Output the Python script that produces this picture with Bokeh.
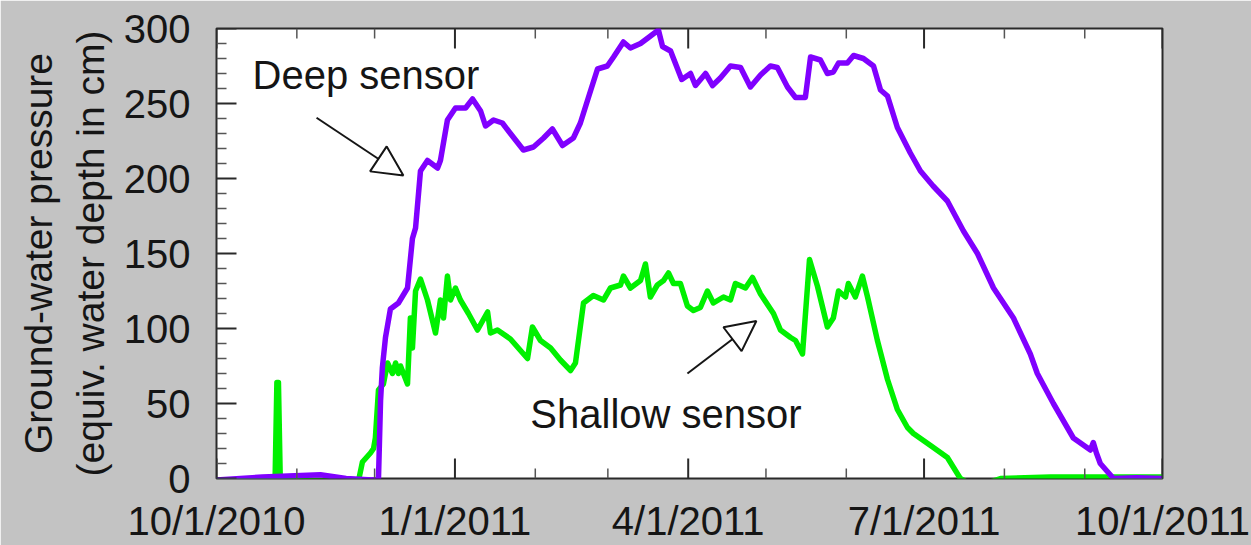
import pandas as pd
from bokeh.plotting import figure
from bokeh.models import FixedTicker, Label, Arrow, NormalHead, Range1d, ColumnDataSource
from bokeh.embed import file_html
from bokeh.resources import INLINE

# Record start; sample times are stored as days since this date
record_start = pd.Timestamp("2010-10-01")
record_end = pd.Timestamp("2011-10-01")

# Deep sensor: days since start, pressure as equivalent water depth (cm)
deep_days = [0, 17.7, 40.1, 50, 60.2, 62.5, 63.3, 64.0, 65.2, 67.1, 70.2, 73.7, 75.6, 76.8,
             78.7, 81.4, 85.3, 86.4, 89.1, 92.2, 96.1, 98.8, 101.9, 103.8, 106.9, 110.3,
             113.4, 118.4, 122.3, 126.2, 129.6, 133.5, 137.7, 140.4, 143.5, 147.0, 150.8,
             153.2, 157.0, 159.7, 163.6, 166.7, 170.5, 172.1, 175.2, 179.5, 182.9, 184.8,
             188.7, 191.4, 194.4, 198.3, 202.2, 206.0, 209.9, 213.7, 216.4, 220.3, 223.4,
             227.2, 229.2, 233.0, 235.7, 238.0, 240.0, 243.4, 245.8, 249.6, 253.5, 256.2,
             258.9, 262.7, 267.7, 271.6, 276.5, 282.0, 288.2, 293.6, 299.8, 307.5, 314.0,
             316.7, 322.9, 330.6, 337.2, 338.3, 339.5, 341.0, 346.1, 355, 365]
deep_cm = [-1, 1, 2.5, 0, -1, 0, 52, 74, 94, 113, 117, 127, 160, 167,
           205, 212, 207, 212, 239, 247, 247, 253, 245, 235, 239, 237,
           230, 219, 221, 227, 233, 222, 227, 237, 254, 273, 275,
           281, 291, 287, 290, 294, 299, 288, 285, 266, 270, 262,
           270, 262, 267, 275, 274, 261, 269, 275, 274, 261, 254,
           254, 281, 279, 270, 271, 277, 277, 282, 280, 275, 259,
           255, 234, 217, 205, 195, 185, 165, 150, 127, 107, 83,
           70, 50, 27, 19, 24, 17, 10, 0, 0.5, 0]

# Shallow sensor: days since start, pressure (cm)
shallow_days = [0, 22.6, 23.3, 23.9, 24.6, 32.4, 47.8, 54.8, 56.3, 59.4, 60.6, 61.3, 62.5,
                64.4, 66.0, 67.9, 69.1, 70.2, 71.0, 73.7, 74.8, 75.6, 76.8, 78.7, 81.4,
                84.5, 86.4, 87.6, 89.1, 90.3, 92.2, 94.1, 97.2, 100.7, 104.6, 105.7, 108.4,
                113.4, 120.0, 121.9, 125.0, 128.9, 132.7, 136.6, 138.5, 141.6, 145.4, 149.3,
                152.0, 155.9, 157.0, 159.7, 163.6, 165.5, 167.4, 170.1, 172.5, 174.4, 176.3,
                179.0, 181.7, 184.0, 186.7, 189.4, 191.7, 195.6, 198.3, 200.2, 204.1, 206.8,
                209.9, 214.9, 217.6, 221.5, 223.4, 226.1, 228.8, 231.9, 235.7, 238.0, 240.0,
                242.7, 243.8, 246.5, 249.2, 251.2, 255.0, 258.9, 262.7, 266.6, 268.9, 275.5,
                282.0, 287.0, 292.1, 297.5, 302.5, 321.8, 346.1, 365]
shallow_cm = [-1, -1, 64, 64, -1, -1.5, -2, -1.5, 11, 17, 20, 27, 59,
              63, 77, 70, 77, 70, 75, 63, 107, 87, 125, 133, 119,
              97, 119, 107, 135, 119, 127, 119, 110, 99, 111, 97, 99,
              93, 80, 101, 92, 87, 79, 72, 77, 117, 122, 119,
              127, 129, 135, 127, 132, 143, 121, 129, 132, 137, 130,
              130, 115, 112, 114, 125, 117, 121, 119, 130, 127, 134,
              123, 110, 99, 94, 92, 83, 146, 128, 101, 107, 125,
              121, 130, 121, 135, 121, 92, 66, 46, 34, 30, 22,
              14, 0, -5, -3, 0, 1, 1, 1]

# Axis ticks
quarter_dates = ["2010-10-01", "2011-01-01", "2011-04-01", "2011-07-01", "2011-10-01"]
quarter_labels = ["10/1/2010", "1/1/2011", "4/1/2011", "7/1/2011", "10/1/2011"]
month_dates = pd.date_range(record_start, record_end, freq="MS")
y_low, y_high = 0, 300
y_major = [0, 50, 100, 150, 200, 250, 300]
y_minor = list(range(0, 301, 10))


def ms(ts):
    return float(pd.Timestamp(ts).value // 10**6)


def day_ms(days):
    return ms(record_start + pd.Timedelta(days=days))


def to_dates(days):
    return record_start + pd.to_timedelta(days, unit="D")


FONT = "Liberation Sans"
INK = "#151515"
AXIS_INK = "#2a2a2a"
MINOR_INK = "#555555"

W, H = 1251, 545
BORDER_L, BORDER_R, BORDER_T, BORDER_B = 216, 89, 28, 67

p = figure(width=W, height=H, x_axis_type="datetime",
           x_range=Range1d(ms(record_start), ms(record_end)), y_range=Range1d(y_low, y_high),
           output_backend="svg", toolbar_location=None,
           min_border_left=BORDER_L, min_border_right=BORDER_R,
           min_border_top=BORDER_T, min_border_bottom=BORDER_B,
           background_fill_color="white", border_fill_color="#c3c3c3")
p.grid.visible = False
p.outline_line_color = AXIS_INK
p.outline_line_width = 2

p.line(to_dates(shallow_days), shallow_cm, line_color="#00f000", line_width=5.5, line_join="round")
p.line(to_dates(deep_days), deep_cm, line_color="#8000ff", line_width=5.5, line_join="round")

major_ms = [ms(d) for d in quarter_dates]
minor_ms = [ms(d) for d in month_dates if ms(d) not in major_ms]
y_minor_only = [v for v in y_minor if v not in y_major]

# Inward tick marks along the bottom, top and left edges of the frame
x_left = ms(record_start)
x_per_px = (ms(record_end) - ms(record_start)) / (W - BORDER_L - BORDER_R)
y_per_px = (y_high - y_low) / (H - BORDER_T - BORDER_B)
MAJOR_LEN, MINOR_LEN = 20, 10


def add_ticks(x0, y0, x1, y1, lw, color):
    src = ColumnDataSource(dict(x0=x0, y0=y0, x1=x1, y1=y1))
    p.add_layout(Arrow(end=None, source=src, x_start="x0", y_start="y0",
                       x_end="x1", y_end="y1", line_color=color, line_width=lw))


for ticks, length, lw, color in [(major_ms, MAJOR_LEN, 2, AXIS_INK),
                                 (minor_ms, MINOR_LEN, 1.5, MINOR_INK)]:
    dy = length * y_per_px
    add_ticks(ticks * 2, [y_low] * len(ticks) + [y_high] * len(ticks),
              ticks * 2, [y_low + dy] * len(ticks) + [y_high - dy] * len(ticks), lw, color)
for ticks, length, lw, color in [(y_major, MAJOR_LEN, 2, AXIS_INK),
                                 (y_minor_only, MINOR_LEN, 1.5, MINOR_INK)]:
    dx = length * x_per_px
    add_ticks([x_left] * len(ticks), ticks, [x_left + dx] * len(ticks), ticks, lw, color)


def style_axis(ax):
    ax.axis_line_color = None
    ax.major_tick_in = 0
    ax.major_tick_out = 0
    ax.minor_tick_in = 0
    ax.minor_tick_out = 0
    ax.major_tick_line_color = None
    ax.minor_tick_line_color = None
    ax.major_label_text_font = FONT
    ax.major_label_text_font_size = "40px"
    ax.major_label_text_color = INK


xax = p.xaxis[0]
xax.ticker = FixedTicker(ticks=major_ms)
xax.major_label_overrides = {m: lab for m, lab in zip(major_ms, quarter_labels)}
style_axis(xax)
xax.major_label_standoff = 20

yax = p.yaxis[0]
yax.ticker = FixedTicker(ticks=y_major)
style_axis(yax)
yax.major_label_standoff = 26
yax.axis_label = "Ground-water pressure\n(equiv. water depth in cm)"
yax.axis_label_text_font = FONT
yax.axis_label_text_font_size = "39px"
yax.axis_label_text_font_style = "normal"
yax.axis_label_text_color = INK
yax.axis_label_standoff = 9

# Sensor call-outs
deep_text_day, deep_text_cm = 13.9, 269
shallow_text_day, shallow_text_cm = 121.1, 42.8
for d, v, t in [(deep_text_day, deep_text_cm, "Deep sensor"),
                (shallow_text_day, shallow_text_cm, "Shallow sensor")]:
    p.add_layout(Label(x=day_ms(d), y=v, text=t, text_font=FONT, text_font_size="40px",
                       text_color=INK, text_align="left", text_baseline="alphabetic"))

deep_arrow = (38.6, 240.5, 72.1, 202)
shallow_arrow = (181.7, 70, 208.3, 105)
for d0, v0, d1, v1 in [deep_arrow, shallow_arrow]:
    p.add_layout(Arrow(end=NormalHead(size=30, fill_color="white", line_color=INK, line_width=2),
                       x_start=day_ms(d0), y_start=v0, x_end=day_ms(d1), y_end=v1,
                       line_color=INK, line_width=2))

open("out.html", "w").write(file_html(p, INLINE))
